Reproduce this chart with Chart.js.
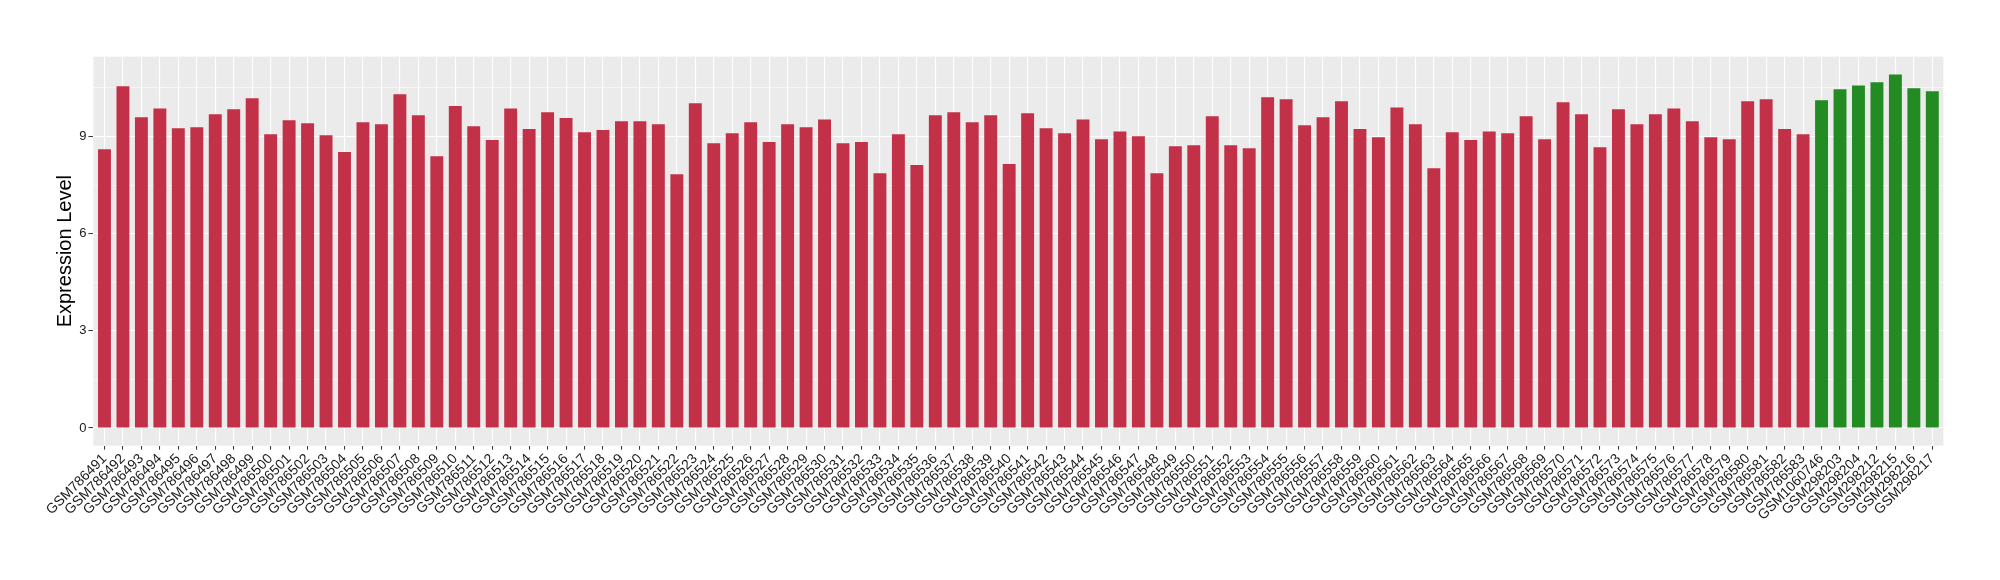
<!DOCTYPE html>
<html>
<head>
<meta charset="utf-8">
<script src="https://cdn.jsdelivr.net/npm/chart.js@4"></script>
<style>
  html, body { margin: 0; padding: 0; background: #fff; }
  #wrap { width: 2000px; height: 580px; }
</style>
</head>
<body>
<div id="wrap"><canvas id="chart" width="2000" height="580"></canvas></div>
<script>
const samples = [
  'GSM786491','GSM786492','GSM786493','GSM786494','GSM786495','GSM786496','GSM786497','GSM786498','GSM786499','GSM786500',
  'GSM786501','GSM786502','GSM786503','GSM786504','GSM786505','GSM786506','GSM786507','GSM786508','GSM786509','GSM786510',
  'GSM786511','GSM786512','GSM786513','GSM786514','GSM786515','GSM786516','GSM786517','GSM786518','GSM786519','GSM786520',
  'GSM786521','GSM786522','GSM786523','GSM786524','GSM786525','GSM786526','GSM786527','GSM786528','GSM786529','GSM786530',
  'GSM786531','GSM786532','GSM786533','GSM786534','GSM786535','GSM786536','GSM786537','GSM786538','GSM786539','GSM786540',
  'GSM786541','GSM786542','GSM786543','GSM786544','GSM786545','GSM786546','GSM786547','GSM786548','GSM786549','GSM786550',
  'GSM786551','GSM786552','GSM786553','GSM786554','GSM786555','GSM786556','GSM786557','GSM786558','GSM786559','GSM786560',
  'GSM786561','GSM786562','GSM786563','GSM786564','GSM786565','GSM786566','GSM786567','GSM786568','GSM786569','GSM786570',
  'GSM786571','GSM786572','GSM786573','GSM786574','GSM786575','GSM786576','GSM786577','GSM786578','GSM786579','GSM786580',
  'GSM786581','GSM786582','GSM786583',
  'GSM1060746','GSM298203','GSM298204','GSM298212','GSM298215','GSM298216','GSM298217'
];

const expression = [
  8.61, 10.55, 9.60, 9.87, 9.26, 9.29, 9.69, 9.84, 10.18, 9.07,
  9.50, 9.41, 9.04, 8.52, 9.44, 9.38, 10.31, 9.66, 8.39, 9.94,
  9.32, 8.89, 9.87, 9.23, 9.75, 9.57, 9.13, 9.20, 9.47, 9.47,
  9.38, 7.84, 10.03, 8.79, 9.10, 9.44, 8.83, 9.38, 9.29, 9.53,
  8.79, 8.83, 7.87, 9.07, 8.12, 9.66, 9.75, 9.44, 9.66, 8.15,
  9.72, 9.26, 9.10, 9.53, 8.92, 9.16, 9.01, 7.87, 8.70, 8.73,
  9.63, 8.73, 8.64, 10.21, 10.15, 9.35, 9.60, 10.09, 9.23, 8.98,
  9.90, 9.38, 8.02, 9.13, 8.89, 9.16, 9.10, 9.63, 8.92, 10.06,
  9.69, 8.67, 9.84, 9.38, 9.69, 9.87, 9.47, 8.98, 8.92, 10.09,
  10.15, 9.23, 9.07,
  10.12, 10.46, 10.58, 10.68, 10.92, 10.49, 10.40
];

// first 93 samples in one group, last 7 in the other
const groups = [...Array(93).fill('A'), ...Array(7).fill('B')];
const groupColors = { A: '#C33149', B: '#228B22' };

const yTicks = [0, 3, 6, 9];

const panelBg = {
  id: 'panelBg',
  beforeDraw(chart) {
    const { ctx, chartArea: a } = chart;
    ctx.save();
    ctx.fillStyle = '#EBEBEB';
    ctx.fillRect(a.left, a.top, a.right - a.left, a.bottom - a.top);
    ctx.restore();
  }
};

const font = 'Liberation Sans, Arial, Helvetica, sans-serif';
const yMax = Math.max(...expression);
const isSampleTick = c => c.tick && Number.isInteger(c.tick.value);

new Chart(document.getElementById('chart'), {
  type: 'bar',
  data: {
    datasets: [{
      data: expression.map((v, i) => ({ x: i, y: v })),
      backgroundColor: groups.map(g => groupColors[g]),
      borderWidth: 0,
      barPercentage: 0.7,
      categoryPercentage: 1.0
    }]
  },
  options: {
    responsive: false,
    animation: false,
    layout: { padding: { top: 56.7, right: 56.6, left: 0, bottom: 0 } },
    plugins: { legend: { display: false }, tooltip: { enabled: false } },
    scales: {
      x: {
        type: 'linear',
        min: -0.6,
        max: samples.length - 1 + 0.6,
        offset: false,
        border: { display: false },
        grid: {
          offset: false,
          color: c => isSampleTick(c) ? '#FFFFFF' : 'rgba(0,0,0,0)',
          lineWidth: 1.1,
          drawTicks: true,
          tickLength: 4,
          tickColor: c => isSampleTick(c) ? '#333333' : 'rgba(0,0,0,0)',
          tickWidth: 1
        },
        ticks: {
          stepSize: 1,
          maxTicksLimit: 200,
          includeBounds: false,
          autoSkip: false,
          minRotation: 45,
          maxRotation: 45,
          padding: 1,
          color: '#1a1a1a',
          font: { family: font, size: 14 },
          callback: v => Number.isInteger(v) ? samples[v] : ''
        },
        afterFit(scale) { scale.height = 134.3; }
      },
      y: {
        min: -0.546,
        max: yMax * 1.05,
        border: { display: false },
        grid: {
          color: '#FFFFFF',
          lineWidth: c => (c.tick && yTicks.includes(c.tick.value)) ? 1.1 : 0.55,
          drawTicks: true,
          tickLength: 5,
          tickWidth: 1,
          tickColor: c => (c.tick && yTicks.includes(c.tick.value)) ? '#333333' : 'rgba(0,0,0,0)'
        },
        ticks: {
          stepSize: 1.5,
          includeBounds: false,
          padding: 2,
          color: '#1a1a1a',
          font: { family: font, size: 13 },
          callback: v => yTicks.includes(v) ? String(v) : ''
        },
        title: {
          display: true,
          text: 'Expression Level',
          color: '#000000',
          font: { family: font, size: 20 },
          padding: { top: 53, bottom: 0 }
        },
        afterFit(scale) { scale.width = 93.4; }
      }
    }
  },
  plugins: [panelBg]
});
</script>
</body>
</html>
